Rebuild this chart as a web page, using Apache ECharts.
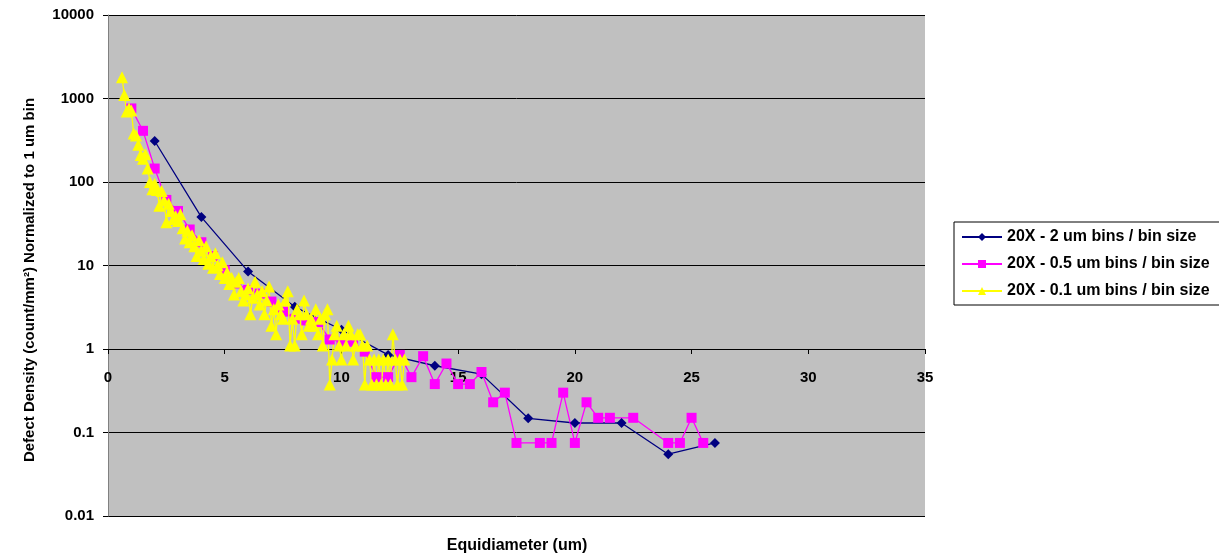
<!DOCTYPE html>
<html>
<head>
<meta charset="utf-8">
<script src="https://cdn.jsdelivr.net/npm/echarts@6/dist/echarts.min.js"></script>
<style>html,body{margin:0;padding:0;background:#fff}#c{width:1219px;height:556px}</style>
</head>
<body>
<div id="c"></div>
<script>
const seriesNames = ['20X - 2 um bins / bin size', '20X - 0.5 um bins / bin size', '20X - 0.1 um bins / bin size'];
const xTickLabels = [0, 5, 10, 15, 20, 25, 30, 35];
const yTickLabels = ['0.01', '0.1', '1', '10', '100', '1000', '10000'];

const navyX = [2, 4, 6, 8, 10, 12, 14, 16, 18, 20, 22, 24, 26];
const navyY = [310, 38, 8.5, 3.2, 1.7, 0.85, 0.63, 0.5, 0.148, 0.13, 0.13, 0.055, 0.075];

const pinkX = [1.0, 1.5, 2.0, 2.5, 3.0, 3.5, 4.0, 4.5, 5.0, 5.5, 6.0, 6.5, 7.0, 7.5, 8.0, 8.5, 9.0, 9.5, 10.0, 10.5, 11.0, 11.5, 12.0, 12.5, 13.0, 13.5, 14.0, 14.5, 15.0, 15.5, 16.0, 16.5, 17.0, 17.5, 18.5, 19.0, 19.5, 20.0, 20.5, 21.0, 21.5, 22.5, 24.0, 24.5, 25.0, 25.5];
const pinkY = [760, 410, 145, 61, 45, 27, 19, 13, 8.8, 6.1, 5.1, 4.6, 3.7, 2.8, 2.3, 2.2, 2.1, 1.3, 1.22, 1.22, 0.93, 0.46, 0.46, 0.85, 0.46, 0.82, 0.38, 0.67, 0.38, 0.38, 0.53, 0.23, 0.30, 0.075, 0.075, 0.075, 0.30, 0.075, 0.23, 0.15, 0.15, 0.15, 0.075, 0.075, 0.15, 0.075];

const yellowX = [0.6, 0.7, 0.8, 0.9, 1.0, 1.1, 1.2, 1.3, 1.4, 1.5, 1.6, 1.7, 1.8, 1.9, 2.0, 2.1, 2.2, 2.3, 2.4, 2.5, 2.6, 2.7, 2.8, 2.9, 3.0, 3.1, 3.2, 3.3, 3.4, 3.5, 3.6, 3.7, 3.8, 3.9, 4.0, 4.1, 4.2, 4.3, 4.4, 4.5, 4.6, 4.7, 4.8, 4.9, 5.0, 5.1, 5.2, 5.3, 5.4, 5.5, 5.6, 5.7, 5.8, 5.9, 6.0, 6.1, 6.2, 6.3, 6.4, 6.5, 6.6, 6.7, 6.8, 6.9, 7.0, 7.1, 7.2, 7.3, 7.4, 7.5, 7.6, 7.7, 7.8, 7.9, 8.0, 8.1, 8.2, 8.3, 8.4, 8.5, 8.6, 8.7, 8.8, 8.9, 9.0, 9.1, 9.2, 9.3, 9.4, 9.5, 9.6, 9.7, 9.8, 9.9, 10.0, 10.1, 10.2, 10.3, 10.4, 10.5, 10.6, 10.7, 10.8, 10.9, 11.0, 11.1, 11.2, 11.3, 11.4, 11.5, 11.6, 11.7, 11.8, 11.9, 12.0, 12.1, 12.2, 12.3, 12.4, 12.5, 12.6, 12.7];
const yellowY = [1800, 1100, 700, 760, 720, 380, 360, 280, 210, 190, 215, 145, 100, 82, 95, 80, 52, 78, 60, 33, 55, 45, 36, 39, 34, 41, 28, 21, 26, 19, 23, 17, 13, 20, 15, 12, 17, 10.5, 13, 9.4, 14, 10.1, 7.9, 10.9, 7.1, 8.3, 6.0, 7.1, 4.5, 6.4, 7.1, 4.9, 3.8, 4.5, 5.3, 2.6, 4.1, 6.4, 4.5, 3.4, 4.9, 2.6, 3.8, 5.6, 1.9, 3.0, 1.5, 3.4, 2.6, 2.3, 3.8, 4.9, 1.1, 2.3, 1.1, 3.0, 2.6, 1.5, 3.8, 2.6, 1.9, 2.3, 1.9, 3.0, 1.5, 2.3, 1.1, 2.6, 3.0, 0.375, 0.75, 1.5, 1.9, 1.1, 0.75, 1.5, 1.1, 1.9, 1.5, 0.75, 1.1, 1.5, 1.5, 1.1, 0.375, 1.1, 0.75, 0.375, 0.75, 0.375, 0.75, 0.375, 0.75, 0.375, 0.75, 0.375, 1.5, 0.75, 0.375, 0.75, 0.375, 0.75];

const zip = (xs, ys) => xs.map((x, i) => [x, ys[i]]);
const FONT = '"Liberation Sans", Arial, sans-serif';

const chart = echarts.init(document.getElementById('c'));
chart.setOption({
  animation: false,
  backgroundColor: '#ffffff',
  grid: { left: 108, right: 294, top: 15, bottom: 40, show: true, backgroundColor: '#C0C0C0', borderWidth: 0, outerBoundsMode: 'none' },
  xAxis: {
    type: 'value', min: 0, max: 35, interval: 5, offset: -167,
    axisLine: { onZero: false, lineStyle: { color: '#000', width: 1 } },
    axisTick: { show: true, inside: false, length: 5, lineStyle: { color: '#000' } },
    axisLabel: { margin: 21, color: '#000', fontFamily: FONT, fontWeight: 'bold', fontSize: 15,
      formatter: v => xTickLabels.includes(v) ? String(v) : '' },
    splitLine: { show: false }
  },
  yAxis: {
    type: 'log', logBase: 10, min: 0.01, max: 10000,
    axisLine: { show: true, lineStyle: { color: '#808080', width: 1 } },
    axisTick: { show: true, inside: false, length: 5, lineStyle: { color: '#000' } },
    minorTick: { show: false },
    axisLabel: { margin: 14, color: '#000', fontFamily: FONT, fontWeight: 'bold', fontSize: 15,
      formatter: v => { const e = Math.round(Math.log10(v)); return yTickLabels[e + 2]; } },
    splitLine: { show: true, lineStyle: { color: '#000', width: 1 } }
  },
  legend: {
    orient: 'vertical', left: 954, top: 222,
    padding: [7, 30, 6, 7], itemGap: 11, itemWidth: 40, itemHeight: 10,
    borderColor: '#000', borderWidth: 1, backgroundColor: '#fff',
    textStyle: { fontFamily: FONT, fontWeight: 'bold', fontSize: 16, color: '#000' },
    data: seriesNames
  },
  graphic: [
    { type: 'text', x: 30, y: 280, rotation: Math.PI / 2,
      style: { text: 'Defect Density (count/mm²) Normalized to 1 um bin', fontFamily: FONT, fontWeight: 'bold', fontSize: 15, fill: '#000', align: 'center', verticalAlign: 'middle' } },
    { type: 'text', x: 517, y: 546,
      style: { text: 'Equidiameter (um)', fontFamily: FONT, fontWeight: 'bold', fontSize: 16, fill: '#000', align: 'center', verticalAlign: 'middle' } }
  ],
  series: [
    { name: seriesNames[0], type: 'line', data: zip(navyX, navyY), symbol: 'diamond', symbolSize: 10,
      itemStyle: { color: '#000080' }, lineStyle: { color: '#000080', width: 1.3 } },
    { name: seriesNames[1], type: 'line', data: zip(pinkX, pinkY), symbol: 'rect', symbolSize: 10,
      itemStyle: { color: '#FF00FF' }, lineStyle: { color: '#FF00FF', width: 1.3 } },
    { name: seriesNames[2], type: 'line', data: zip(yellowX, yellowY), symbol: 'triangle', symbolSize: 12,
      itemStyle: { color: '#FFFF00' }, lineStyle: { color: '#FFFF00', width: 1.3 } }
  ]
});
</script>
</body>
</html>
